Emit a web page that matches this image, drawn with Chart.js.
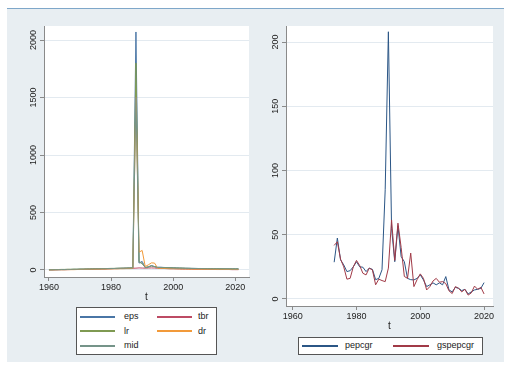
<!DOCTYPE html>
<html>
<head>
<meta charset="utf-8">
<script src="https://cdn.jsdelivr.net/npm/chart.js@4.4.0/dist/chart.umd.min.js"></script>
<style>
  html, body { margin: 0; padding: 0; background: #fff; }
  body { width: 513px; height: 372px; position: relative; overflow: hidden;
         font-family: "Liberation Sans", Arial, sans-serif; }
  #panel { position: absolute; left: 7px; top: 8px; width: 497px; height: 353px;
           background: #e8eef2; border-top: 1px solid #7ea7c9; }
  .wrap { position: absolute; }
  .legend { position: absolute; background: #fff; border: 1px solid #555; box-sizing: border-box; }
  .key { position: absolute; height: 2px; }
  .lab { position: absolute; font-size: 9px; line-height: 9px; color: #222; white-space: nowrap; }
</style>
</head>
<body>
<div id="panel"></div>
<div class="wrap" style="left:0;top:0;"><canvas id="left" width="256" height="304"></canvas></div>
<div class="wrap" style="left:256px;top:0;"><canvas id="right" width="257" height="333"></canvas></div>
<div id="legLeft" class="legend" style="left:76px;top:307px;width:141px;height:48px;"></div>
<div id="legRight" class="legend" style="left:298px;top:337px;width:185px;height:18px;"></div>
<script>
// ---- left panel: 1960-2021 ----
const leftStart = 1960;
const leftNames = ['eps', 'tbr', 'lr', 'dr', 'mid'];
const leftColors = ['#4a76a6', '#bd4b64', '#7f9a52', '#f29a3a', '#759489'];
const eps = [1, 1, 2, 2, 3, 3, 4, 4, 5, 5,
             6, 6, 7, 8, 8, 9, 10, 10, 11, 12,
             12, 13, 14, 14, 15, 16, 16, 17,
             2070,
             60, 75, 20, 28, 38, 30, 24,
             24, 22, 21, 20, 19, 18, 17, 16, 15, 15,
             14, 14, 13, 13, 12, 12, 12, 11, 11, 11,
             10, 10, 10, 10, 10, 10];
const tbr = [2, 2, 2, 3, 3, 3, 3, 4, 4, 4,
             5, 5, 6, 6, 7, 8, 8, 9, 9, 10,
             11, 12, 12, 13, 14, 14, 15, 15,
             16,
             18, 17, 16, 17, 18, 17, 15,
             14, 13, 12, 11, 11, 10, 9, 8, 8, 7,
             7, 6, 6, 6, 5, 5, 5, 5, 4, 4,
             4, 4, 4, 3, 3, 3];
const lr = [3, 3, 4, 4, 5, 5, 6, 6, 7, 7,
            8, 8, 9, 9, 10, 11, 11, 12, 12, 13,
            14, 14, 15, 16, 16, 17, 18, 18,
            1800,
            75, 55, 22, 25, 35, 28, 22,
            22, 21, 20, 19, 18, 17, 16, 16, 15, 14,
            14, 13, 13, 12, 12, 11, 11, 11, 10, 10,
            10, 9, 9, 9, 9, 9];
const dr = [1, 1, 1, 2, 2, 2, 3, 3, 3, 4,
            4, 5, 5, 6, 6, 7, 7, 8, 8, 9,
            9, 10, 10, 11, 11, 12, 12, 13,
            1500,
            155, 170, 30, 45, 62, 60, 15,
            14, 13, 12, 11, 11, 10, 10, 9, 9, 8,
            8, 7, 7, 7, 6, 6, 6, 6, 5, 5,
            5, 5, 5, 5, 4, 4];
const mid = [2, 2, 3, 3, 4, 4, 5, 5, 6, 6,
             7, 7, 8, 8, 9, 10, 10, 11, 11, 12,
             13, 13, 14, 15, 15, 16, 17, 17,
             1500,
             65, 60, 20, 26, 36, 29, 21,
             21, 20, 19, 18, 17, 16, 16, 15, 14, 14,
             13, 13, 12, 12, 11, 11, 10, 10, 10, 9,
             9, 9, 9, 8, 8, 8];
const leftValues = [eps, tbr, lr, dr, mid];
const leftYTicks = [0, 500, 1000, 1500, 2000];
const leftXTicks = [1960, 1980, 2000, 2020];

// ---- right panel: 1973-2020 ----
const rightStart = 1973;
const rightNames = ['pepcgr', 'gspepcgr'];
const rightColors = ['#2b5686', '#a13a47'];
const pepcgr = [28.6, 47.4, 30.5, 26.5, 21.3, 22, 25, 29, 25, 24.7,
                21.3, 24, 23, 15, 16, 22.7, 85, 208, 55, 29,
                57, 33, 29, 16, 15, 14.8, 16, 18.8, 14.8, 9.6,
                11, 12.5, 11, 12.5, 11, 17.4, 7, 5.5, 9, 8.3,
                6.5, 7.5, 3.9, 5.5, 7, 7.5, 8.3, 12.7];
const gspepcgr = [41.7, 44.5, 31, 25, 15.4, 16, 25, 30, 26, 20,
                  18.7, 24, 22.6, 11, 15.4, 14.3, 13.5, 24, 61.5, 30,
                  59, 40, 17.5, 16, 35.7, 9.6, 15, 19.5, 16, 7,
                  9.6, 14, 16, 13, 13.5, 12, 6.3, 4.2, 9.6, 8.3,
                  5.5, 7.5, 3, 4.7, 10, 7.5, 9, 3.9];
const rightValues = [pepcgr, gspepcgr];
const rightYTicks = [0, 50, 100, 150, 200];
const rightXTicks = [1960, 1980, 2000, 2020];

const FONT = '"Liberation Sans", Arial, sans-serif';
const AXIS = '#8a8a8a';
Chart.defaults.font.family = FONT;

// white plot region
const plotBg = {
  id: 'plotBg',
  beforeDraw(chart) {
    const a = chart.chartArea, ctx = chart.ctx;
    ctx.save();
    ctx.fillStyle = '#fff';
    ctx.fillRect(a.left, a.top, a.right - a.left, a.bottom - a.top);
    ctx.restore();
  }
};

// vertical y tick labels (Stata style)
const yLabels = {
  id: 'yLabels',
  afterDraw(chart, args, opts) {
    const s = chart.scales.y, ctx = chart.ctx;
    ctx.save();
    ctx.font = '9px ' + FONT;
    ctx.fillStyle = '#222';
    ctx.textAlign = 'center';
    ctx.textBaseline = 'middle';
    s.ticks.forEach(t => {
      ctx.save();
      ctx.translate(s.right - opts.offset, s.getPixelForValue(t.value));
      ctx.rotate(-Math.PI / 2);
      ctx.fillText(String(t.value), 0, 0);
      ctx.restore();
    });
    ctx.restore();
  }
};

function makeChart(id, start, names, colors, values, opt) {
  const datasets = names.map((n, i) => ({
    label: n,
    data: values[i].map((v, j) => ({ x: start + j, y: v })),
    borderColor: colors[i],
    borderWidth: 1,
    pointRadius: 0,
    fill: false,
    tension: 0,
    order: names.length - i
  }));
  return new Chart(document.getElementById(id), {
    type: 'line',
    data: { datasets },
    plugins: [plotBg, yLabels],
    options: {
      responsive: false,
      animation: false,
      devicePixelRatio: 1,
      layout: { padding: opt.padding },
      plugins: {
        legend: { display: false },
        tooltip: { enabled: false },
        yLabels: { offset: 10 }
      },
      scales: {
        x: {
          type: 'linear',
          min: opt.xMin, max: opt.xMax,
          afterBuildTicks: s => { s.ticks = opt.xTicks.map(v => ({ value: v })); },
          afterFit: s => { s.height = 25; },
          grid: { drawOnChartArea: false, drawTicks: true, tickLength: 4, tickColor: AXIS },
          border: { color: AXIS, width: 1 },
          ticks: { font: { size: 9, lineHeight: 1 }, color: '#222', padding: 2,
                   maxRotation: 0, autoSkip: false, callback: v => String(v) },
          title: { display: true, text: 't', color: '#222', padding: 0,
                   font: { size: 10, lineHeight: 1 } }
        },
        y: {
          type: 'linear',
          min: opt.yMin, max: opt.yMax,
          afterBuildTicks: s => { s.ticks = opt.yTicks.map(v => ({ value: v })); },
          afterFit: s => { s.width = opt.yWidth; },
          grid: { color: '#e3eaf0', lineWidth: 1, tickLength: 4, tickColor: AXIS },
          border: { color: AXIS, width: 1 },
          ticks: { display: false }
        }
      }
    }
  });
}

makeChart('left', leftStart, leftNames, leftColors, leftValues, {
  padding: { left: 0, top: 26, right: 7, bottom: 2 },
  yWidth: 44, xMin: 1958.4, xMax: 2024.4, yMin: -61, yMax: 2122,
  xTicks: leftXTicks, yTicks: leftYTicks
});
makeChart('right', rightStart, rightNames, rightColors, rightValues, {
  padding: { left: 0, top: 26, right: 20, bottom: 2 },
  yWidth: 30, xMin: 1957.9, xMax: 2022.8, yMin: -5.5, yMax: 212.5,
  xTicks: rightXTicks, yTicks: rightYTicks
});

// legends (Stata-like boxed keys)
function makeLegend(boxId, names, colors, box, keyX, keyW, textX, rowY) {
  const el = document.getElementById(boxId);
  names.forEach((n, i) => {
    const col = i % 2, row = Math.floor(i / 2);
    const k = document.createElement('div');
    k.className = 'key';
    k.style.left = (keyX[col] - box.left - 1) + 'px';
    k.style.top = (rowY[row] - box.top - 2) + 'px';
    k.style.width = keyW + 'px';
    k.style.background = colors[i];
    el.appendChild(k);
    const t = document.createElement('div');
    t.className = 'lab';
    t.textContent = n;
    t.style.left = (textX[col] - box.left - 1) + 'px';
    t.style.top = (rowY[row] - box.top - 5.5) + 'px';
    el.appendChild(t);
  });
}
makeLegend('legLeft', leftNames, leftColors, { left: 76, top: 307 },
           [80, 157], 35, [124, 198], [316.5, 331, 345.5]);
makeLegend('legRight', rightNames, rightColors, { left: 298, top: 337 },
           [302, 393], 36, [345, 437], [345.5]);
</script>
</body>
</html>
